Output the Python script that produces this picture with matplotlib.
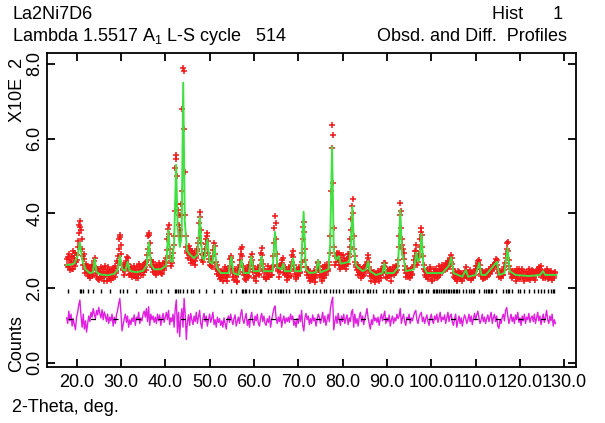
#!/usr/bin/env python3
"""
GSAS-style Rietveld plot: observed, calculated and difference profiles
"""

import numpy as np
import matplotlib
matplotlib.use("Agg")
import matplotlib.pyplot as plt

plt.rcParams['font.family'] = ['Liberation Sans', 'DejaVu Sans']
plt.rcParams['mathtext.fontset'] = 'custom'
plt.rcParams['mathtext.rm'] = 'Liberation Sans'

# observed profile, 0.125 deg steps from 17.75 to 128.0 (units of 10^2 counts)
# one row = 5 deg
obs_start, obs_step = 17.75, 0.125
y_obs = [
    2.78, 2.62, 2.55, 2.84, 2.92, 2.60, 2.48, 2.75, 2.70, 2.50, 2.85, 2.98, 2.52, 2.80, 2.66, 2.58, 2.95, 2.70, 2.74, 2.88,
    3.10, 3.25, 3.48, 3.68, 3.80, 3.62, 3.55, 3.30, 3.05, 2.85, 2.62, 2.90, 2.78, 2.52, 2.40, 2.64, 2.58, 2.45, 2.33, 2.55,
    2.50, 2.36, 2.28, 2.55, 2.45, 2.32, 2.62, 2.48, 2.35, 2.60, 2.72, 2.80, 2.55, 2.40, 2.30, 2.52, 2.48, 2.25, 2.22, 2.46,
    2.41, 2.30, 2.56, 2.38, 2.26, 2.50, 2.44, 2.18, 2.33, 2.58, 2.52, 2.34, 2.20, 2.42, 2.38, 2.55, 2.47, 2.24, 2.29, 2.45,
    2.36, 2.22, 2.50, 2.40, 2.27, 2.54, 2.44, 2.30, 2.58, 2.46, 2.40, 2.72, 2.66, 2.85, 3.05, 3.30, 3.42, 3.36, 3.15, 2.90,
    2.62, 2.50, 2.48, 2.62, 2.35, 2.45, 2.55, 2.72, 2.68, 2.82, 2.80, 2.64, 2.50, 2.36, 2.38, 2.52, 2.56, 2.34, 2.30, 2.48,
    2.45, 2.58, 2.31, 2.42, 2.52, 2.26, 2.40, 2.55, 2.28, 2.38, 2.47, 2.64, 2.58, 2.44, 2.36, 2.52, 2.49, 2.35, 2.62, 2.50,
    2.42, 2.66, 2.55, 2.48, 2.70, 2.88, 3.05, 3.38, 3.47, 3.42, 3.20, 2.95, 2.75, 2.62, 2.55, 2.70, 2.44, 2.52, 2.60, 2.40,
    2.48, 2.62, 2.36, 2.50, 2.57, 2.42, 2.44, 2.68, 2.62, 2.48, 2.40, 2.56, 2.52, 2.38, 2.66, 2.54, 2.47, 2.70, 2.58, 2.66,
    2.80, 3.02, 3.30, 3.58, 3.69, 3.45, 3.05, 2.85, 2.72, 2.58, 2.66, 2.80, 2.95, 3.15, 3.40, 4.05, 5.20, 5.45, 5.56, 5.00,
    4.25, 4.10, 3.95, 3.70, 3.55, 3.40, 3.95, 4.25, 4.60, 6.80, 7.88, 7.80, 6.25, 5.10, 3.95, 3.40, 3.10, 3.00, 2.95, 2.80,
    3.12, 2.95, 2.88, 3.05, 2.75, 2.68, 3.00, 2.85, 2.70, 2.95, 2.92, 2.72, 2.62, 2.80, 2.85, 2.98, 3.05, 3.20, 3.35, 3.75,
    4.04, 3.90, 3.55, 3.20, 2.90, 2.75, 2.70, 2.88, 2.85, 2.95, 3.05, 3.18, 3.30, 3.40, 3.47, 3.25, 2.95, 2.78, 2.62, 2.70,
    2.78, 2.60, 2.55, 2.68, 2.85, 3.02, 3.20, 3.12, 2.90, 2.70, 2.52, 2.62, 2.38, 2.46, 2.50, 2.32, 2.25, 2.40, 2.42, 2.28,
    2.30, 2.45, 2.18, 2.34, 2.44, 2.56, 2.28, 2.40, 2.52, 2.30, 2.20, 2.46, 2.36, 2.50, 2.60, 2.78, 2.85, 2.80, 2.70, 2.52,
    2.40, 2.30, 2.22, 2.50, 2.45, 2.35, 2.30, 2.20, 2.16, 2.38, 2.48, 2.55, 2.62, 2.75, 2.90, 3.05, 3.10, 2.85, 2.58, 2.42,
    2.35, 2.24, 2.50, 2.38, 2.22, 2.46, 2.40, 2.30, 2.55, 2.62, 2.32, 2.50, 2.70, 2.82, 2.90, 2.76, 2.60, 2.42, 2.28, 2.50,
    2.45, 2.32, 2.18, 2.40, 2.40, 2.52, 2.55, 2.38, 2.35, 2.58, 2.75, 2.95, 3.07, 2.88, 2.65, 2.45, 2.30, 2.52, 2.46, 2.26,
    2.25, 2.38, 2.42, 2.30, 2.58, 2.44, 2.30, 2.52, 2.48, 2.34, 2.36, 2.55, 2.60, 2.85, 3.20, 3.60, 3.92, 3.75, 3.30, 2.90,
    2.62, 2.50, 2.45, 2.60, 2.30, 2.42, 2.55, 2.62, 2.68, 2.76, 2.80, 2.62, 2.50, 2.40, 2.35, 2.52, 2.47, 2.32, 2.22, 2.44,
    2.40, 2.30, 2.55, 2.45, 2.32, 2.58, 2.70, 2.88, 3.00, 2.82, 2.62, 2.50, 2.38, 2.30, 2.25, 2.42, 2.48, 2.35, 2.33, 2.50,
    2.56, 2.40, 2.42, 2.55, 2.70, 2.95, 3.30, 3.62, 3.78, 3.50, 3.05, 2.75, 2.55, 2.42, 2.36, 2.48, 2.50, 2.34, 2.28, 2.40,
    2.20, 2.32, 2.38, 2.22, 2.26, 2.40, 2.45, 2.30, 2.15, 2.28, 2.36, 2.48, 2.55, 2.66, 2.70, 2.58, 2.48, 2.36, 2.30, 2.42,
    2.18, 2.30, 2.42, 2.55, 2.27, 2.38, 2.50, 2.62, 2.35, 2.48, 2.58, 2.52, 2.46, 2.62, 2.70, 2.95, 3.40, 4.60, 5.75, 6.37,
    6.10, 4.80, 3.60, 3.10, 2.85, 2.62, 2.70, 2.90, 2.95, 2.78, 2.80, 2.95, 2.62, 2.50, 2.75, 2.88, 2.55, 2.70, 2.88, 2.62,
    2.60, 2.80, 2.72, 2.58, 2.50, 2.66, 2.78, 2.90, 2.65, 2.82, 2.90, 3.10, 3.30, 3.55, 3.85, 4.20, 4.38, 4.00, 3.40, 3.05,
    2.85, 2.70, 2.62, 2.55, 2.48, 2.62, 2.35, 2.44, 2.55, 2.38, 2.40, 2.52, 2.28, 2.40, 2.50, 2.32, 2.36, 2.55, 2.60, 2.48,
    2.45, 2.62, 2.70, 2.80, 2.88, 2.70, 2.55, 2.40, 2.32, 2.45, 2.20, 2.34, 2.42, 2.30, 2.26, 2.44, 2.15, 2.28, 2.38, 2.25,
    2.30, 2.40, 2.45, 2.28, 2.18, 2.42, 2.36, 2.26, 2.50, 2.44, 2.40, 2.52, 2.58, 2.66, 2.68, 2.55, 2.42, 2.30, 2.28, 2.45,
    2.47, 2.36, 2.33, 2.50, 2.52, 2.34, 2.20, 2.38, 2.44, 2.56, 2.36, 2.48, 2.55, 2.40, 2.42, 2.58, 2.60, 2.48, 2.75, 3.10,
    3.40, 3.95, 4.28, 4.05, 3.60, 3.30, 3.15, 3.05, 2.95, 2.78, 2.60, 2.48, 2.40, 2.30, 2.52, 2.40, 2.30, 2.48, 2.45, 2.36,
    2.28, 2.42, 2.50, 2.35, 2.38, 2.55, 2.62, 2.75, 2.85, 3.00, 3.15, 2.98, 2.80, 2.62, 2.70, 2.82, 2.90, 3.10, 3.30, 3.50,
    3.60, 3.42, 3.10, 2.85, 2.62, 2.50, 2.45, 2.36, 2.30, 2.42, 2.48, 2.30, 2.25, 2.38, 2.40, 2.52, 2.55, 2.40, 2.32, 2.22,
    2.20, 2.35, 2.44, 2.50, 2.35, 2.26, 2.52, 2.40, 2.28, 2.46, 2.40, 2.30, 2.58, 2.45, 2.36, 2.50, 2.47, 2.55, 2.62, 2.48,
    2.45, 2.60, 2.55, 2.48, 2.66, 2.58, 2.50, 2.64, 2.72, 2.55, 2.60, 2.76, 2.80, 2.70, 2.88, 2.80, 2.65, 2.52, 2.40, 2.30,
    2.28, 2.44, 2.36, 2.25, 2.18, 2.35, 2.30, 2.45, 2.42, 2.30, 2.25, 2.40, 2.38, 2.28, 2.20, 2.32, 2.35, 2.28, 2.46, 2.38,
    2.55, 2.45, 2.40, 2.30, 2.26, 2.44, 2.35, 2.28, 2.48, 2.36, 2.22, 2.40, 2.38, 2.26, 2.30, 2.44, 2.45, 2.36, 2.52, 2.58,
    2.60, 2.50, 2.68, 2.72, 2.75, 2.62, 2.50, 2.38, 2.32, 2.45, 2.40, 2.28, 2.25, 2.42, 2.36, 2.26, 2.46, 2.34, 2.30, 2.44,
    2.42, 2.34, 2.50, 2.44, 2.38, 2.52, 2.56, 2.46, 2.48, 2.60, 2.62, 2.55, 2.58, 2.68, 2.70, 2.78, 2.75, 2.62, 2.52, 2.40,
    2.30, 2.46, 2.40, 2.32, 2.28, 2.42, 2.45, 2.34, 2.36, 2.48, 2.55, 2.66, 2.80, 2.92, 3.05, 3.20, 3.24, 3.00, 2.75, 2.58,
    2.50, 2.44, 2.38, 2.30, 2.26, 2.40, 2.45, 2.36, 2.32, 2.46, 2.20, 2.30, 2.40, 2.52, 2.35, 2.28, 2.52, 2.40, 2.24, 2.36,
    2.38, 2.50, 2.46, 2.32, 2.30, 2.42, 2.18, 2.26, 2.42, 2.34, 2.28, 2.44, 2.36, 2.25, 2.50, 2.40, 2.22, 2.34, 2.40, 2.48,
    2.30, 2.38, 2.46, 2.28, 2.34, 2.44, 2.22, 2.36, 2.40, 2.48, 2.52, 2.42, 2.36, 2.55, 2.45, 2.52, 2.60, 2.44, 2.38, 2.30,
    2.28, 2.40, 2.44, 2.26, 2.32, 2.46, 2.50, 2.36, 2.25, 2.42, 2.40, 2.28, 2.30, 2.44, 2.46, 2.34, 2.22, 2.36, 2.38, 2.26,
    2.32, 2.40, 2.44,
]

# calculated profile (green line), read as break points
calc_tth = [
    17.7, 18.5, 19.5, 20.2, 20.75, 21.3, 22.0, 23.0, 23.7, 24.1, 24.5, 25.5, 27.0, 28.5, 29.3, 29.8, 30.3,
    31.0, 31.5, 32.0, 33.5, 35.0, 35.8, 36.3, 36.8, 37.5, 39.0, 40.2, 40.7, 41.2, 41.6, 42.0, 42.45, 42.8,
    43.3, 43.7, 44.05, 44.4, 44.9, 45.5, 46.5, 47.3, 47.8, 48.3, 48.8, 49.5, 50.0, 50.6, 51.1, 51.6, 52.5,
    54.3, 54.9, 55.4, 56.5, 57.2, 57.7, 58.9, 59.4, 59.9, 61.2, 61.7, 62.2, 64.2, 64.75, 65.3, 66.2, 66.6,
    67.0, 68.3, 68.8, 69.3, 70.6, 71.2, 71.7, 72.5, 74.0, 74.5, 75.0, 76.8, 77.2, 77.62, 78.0, 78.5, 79.1,
    79.6, 81.5, 81.8, 82.2, 82.6, 83.0, 84.5, 85.3, 85.75, 86.2, 87.5, 89.0, 89.4, 89.8, 91.5, 92.5, 93.0,
    93.4, 93.8, 94.3, 96.1, 96.6, 97.0, 97.4, 97.8, 98.2, 99.0, 101.0, 102.5, 104.0, 104.5, 105.0, 107.0,
    107.8, 108.3, 110.0, 110.8, 111.3, 112.3, 114.8, 115.3, 116.5, 117.2, 117.7, 119.0, 122.0, 124.5, 125.2,
    125.7, 128.2,
]
calc_y = [
    2.62, 2.62, 2.66, 2.85, 3.22, 2.75, 2.50, 2.40, 2.42, 2.78, 2.42, 2.36, 2.34, 2.38, 2.50, 2.86, 2.50,
    2.46, 2.70, 2.46, 2.42, 2.46, 2.60, 3.22, 2.62, 2.50, 2.50, 2.60, 3.55, 2.72, 2.70, 3.20, 5.30, 3.60,
    3.10, 3.40, 7.50, 3.80, 3.00, 2.90, 2.80, 2.90, 3.90, 2.85, 2.75, 3.30, 2.70, 2.65, 3.15, 2.55, 2.40,
    2.40, 2.84, 2.40, 2.35, 2.75, 2.40, 2.40, 2.84, 2.45, 2.45, 2.85, 2.45, 2.45, 3.50, 2.55, 2.50, 2.65,
    2.45, 2.45, 2.80, 2.45, 2.45, 4.04, 2.50, 2.40, 2.42, 2.75, 2.42, 2.50, 3.20, 5.78, 3.00, 2.75, 2.85,
    2.65, 2.70, 3.00, 4.18, 3.00, 2.60, 2.45, 2.50, 2.72, 2.45, 2.35, 2.40, 2.67, 2.40, 2.40, 2.55, 4.09,
    2.90, 2.75, 2.45, 2.50, 2.95, 2.70, 2.80, 3.45, 2.60, 2.40, 2.40, 2.40, 2.60, 2.82, 2.40, 2.30,
    2.48, 2.30, 2.35, 2.67, 2.35, 2.35, 2.70, 2.35, 2.40, 3.07, 2.45, 2.35, 2.32, 2.35, 2.45,
    2.35, 2.35,
]

# difference curve (obs - calc, offset), 0.25 deg steps from 17.75
diff_start, diff_step = 17.75, 0.25
y_diff = [
    1.20, 1.05, 1.38, 1.12, 1.30, 0.98, 1.18, 1.02, 0.88, 1.22, 1.35, 1.55, 1.68, 1.25, 0.95, 1.30, 0.90, 1.12, 0.82, 1.05,
    1.25, 1.10, 1.35, 1.22, 1.45, 1.30, 1.18, 1.40, 1.28, 1.48, 1.32, 1.20, 1.42, 1.15, 1.36, 1.25, 1.10, 1.30, 1.05, 1.22,
    1.12, 1.30, 0.98, 1.22, 1.05, 1.28, 1.40, 1.58, 1.72, 1.35, 0.85, 1.02, 1.18, 1.30, 1.08, 1.25, 0.95, 1.15, 1.02, 1.20,
    1.10, 1.28, 1.00, 1.22, 1.15, 1.35, 1.05, 1.20, 1.12, 1.30, 1.38, 1.22, 1.45, 1.10, 1.50, 1.00, 1.30, 1.15, 1.25, 1.08,
    1.22, 1.05, 1.30, 1.12, 1.28, 1.00, 1.18, 1.32, 1.08, 1.22, 1.35, 1.15, 1.40, 1.02, 1.20, 1.10, 1.30, 0.95, 1.45, 1.68,
    0.80, 1.35, 0.70, 1.20, 1.45, 0.95, 1.72, 1.30, 0.62, 1.10, 1.28, 1.00, 1.32, 1.15, 1.02, 1.25, 1.10, 1.35, 1.05, 1.22,
    1.40, 1.05, 0.92, 1.20, 1.32, 1.10, 1.25, 0.98, 1.15, 1.30, 1.08, 1.20, 1.35, 1.02, 1.15, 0.95, 1.22, 1.08, 1.18, 1.00,
    1.12, 0.95, 1.20, 1.05, 0.90, 1.15, 1.25, 1.08, 1.30, 1.15, 1.02, 1.18, 1.28, 0.98, 1.10, 1.22, 1.05, 1.30, 1.42, 1.15,
    1.05, 1.20, 1.32, 1.00, 1.15, 0.95, 1.22, 1.35, 1.10, 1.00, 1.25, 1.12, 1.30, 1.05, 0.98, 1.20, 1.32, 1.10, 1.25, 1.05,
    1.00, 1.18, 1.08, 1.25, 0.95, 1.15, 1.30, 1.45, 1.52, 1.20, 1.05, 1.22, 1.10, 1.30, 0.95, 1.15, 1.25, 1.05, 1.20, 1.10,
    1.22, 1.08, 1.30, 1.15, 1.25, 1.00, 1.12, 0.95, 1.18, 1.05, 1.28, 1.10, 1.40, 1.00, 0.85, 1.20, 1.32, 1.15, 1.25, 1.02,
    1.18, 1.05, 1.28, 1.12, 1.20, 0.98, 1.15, 1.30, 1.22, 1.05, 1.18, 1.35, 1.08, 1.25, 1.00, 1.15, 1.30, 1.10, 1.45, 1.62,
    1.75, 0.88, 1.10, 1.25, 1.05, 1.32, 1.15, 1.00, 1.25, 1.10, 1.30, 1.05, 1.18, 1.28, 1.02, 1.20, 1.10, 1.35, 1.42, 0.95,
    1.30, 1.05, 1.18, 0.98, 1.22, 1.35, 1.10, 1.25, 1.02, 1.18, 1.30, 1.45, 1.20, 1.05, 0.90, 1.15, 1.02, 1.28, 1.12, 1.20,
    1.08, 1.22, 1.00, 1.18, 1.30, 1.12, 1.25, 1.38, 1.05, 1.20, 1.10, 1.28, 0.98, 1.15, 1.25, 1.05, 1.20, 1.12, 1.30, 1.18,
    1.25, 1.45, 1.05, 1.20, 1.30, 1.10, 1.00, 1.22, 1.15, 1.30, 1.05, 1.20, 1.12, 1.25, 1.35, 1.40, 1.15, 1.05, 1.22, 1.30,
    1.35, 1.10, 1.22, 1.05, 1.18, 1.28, 1.10, 1.00, 1.20, 1.30, 1.12, 1.05, 1.25, 1.15, 1.30, 1.08, 1.20, 1.35, 1.10, 1.22,
    1.15, 1.28, 1.05, 1.20, 1.35, 1.10, 1.25, 1.30, 1.08, 1.00, 1.18, 1.30, 0.95, 1.12, 1.25, 1.05, 1.20, 0.98, 1.15, 1.28,
    1.20, 1.05, 1.15, 1.30, 1.10, 1.25, 1.02, 1.18, 1.32, 1.15, 1.28, 1.38, 1.20, 1.05, 1.15, 1.30, 1.10, 1.22, 1.05, 1.18,
    1.28, 1.10, 1.22, 1.35, 1.05, 1.20, 1.30, 1.10, 1.25, 0.98, 0.92, 1.15, 1.05, 1.22, 1.30, 1.12, 1.40, 1.48, 1.25, 1.05,
    1.18, 1.30, 1.10, 1.22, 1.05, 1.28, 1.15, 1.35, 1.08, 1.20, 1.00, 1.25, 1.12, 1.30, 1.05, 1.22, 1.15, 1.32, 1.08, 1.20,
    1.25, 1.10, 1.30, 1.05, 1.20, 1.35, 1.12, 1.25, 1.02, 1.18, 1.30, 1.08, 1.22, 1.40, 1.15, 1.05, 1.25, 1.12, 1.30, 0.98,
    1.15, 1.05,
]
diff_zero = 1.16

# reflection positions (black tick marks)
refl_tth = [
    18.1, 20.7, 21.1, 21.5, 22.6, 23.7, 25.6, 27.5, 29.8, 30.4, 31.4, 33.5, 35.8, 36.5, 36.9, 38.0,
    39.1, 40.6, 42.1, 42.5, 42.9, 43.3, 44.0, 44.8, 45.9, 46.3, 47.6, 49.3, 51.1, 52.7, 54.9, 56.0,
    57.2, 57.5, 57.9, 58.3, 59.0, 59.8, 60.5, 61.3, 61.7, 63.2, 63.9, 64.7, 65.4, 65.8, 66.2, 66.5,
    67.3, 68.0, 69.2, 69.9, 70.7, 71.4, 72.2, 72.5, 73.3, 74.1, 74.8, 75.9, 76.3, 77.1, 77.8, 78.6,
    79.1, 80.0, 81.2, 81.6, 81.9, 82.3, 83.1, 83.8, 84.6, 85.5, 85.7, 86.1, 86.8, 87.6, 89.1, 89.7,
    90.6, 91.3, 92.4, 92.8, 93.2, 93.6, 93.9, 94.7, 95.8, 96.9, 97.3, 97.7, 98.0, 98.8, 99.2, 100.3,
    100.7, 101.1, 101.4, 101.8, 102.2, 102.6, 102.9, 103.3, 103.7, 104.1, 104.5, 104.8, 105.2, 105.6,
    105.9, 106.3, 107.1, 107.8, 108.6, 109.0, 109.3, 109.7, 110.8, 112.0, 112.3, 112.7, 113.1, 113.5,
    113.8, 114.6, 116.1, 116.8, 117.2, 117.6, 118.3, 119.5, 119.9, 121.0, 122.1, 123.2, 124.0, 124.8,
    125.5, 126.3, 127.0, 127.4, 127.7,
]

x_ticks = [20, 30, 40, 50, 60, 70, 80, 90, 100, 110, 120, 130]
y_ticks = [0, 2, 4, 6, 8]


def plot_profiles(output_file):
    fig = plt.figure(figsize=(6.05, 4.23), dpi=100)
    ax = fig.add_axes([0.0782, 0.1317, 0.8736, 0.7437])

    tth_obs = obs_start + obs_step * np.arange(len(y_obs))
    tth_diff = diff_start + diff_step * np.arange(len(y_diff))

    # observed as red crosses, calculated as green line on top
    ax.plot(tth_obs, y_obs, linestyle='none', marker='+', color='#f01818',
            markersize=5, markeredgewidth=1.1, zorder=2)
    ax.plot(calc_tth, calc_y, color='#3fe03f', linewidth=1.4, zorder=3)

    # reflection markers
    ax.vlines(refl_tth, 1.87, 1.97, colors='black', linewidth=1.0, zorder=3)

    # difference curve with dashed zero line
    ax.plot(tth_diff, y_diff, color='#e020e0', linewidth=1.0, zorder=3)
    ax.axhline(diff_zero, xmin=0.04, xmax=0.96, color='black', linewidth=0.9,
               dashes=(4, 14), zorder=4)

    ax.set_xlim(13.4, 132.6)
    ax.set_ylim(-0.123, 8.30)
    ax.set_xticks(x_ticks)
    ax.set_xticklabels([f"{t:.1f}" for t in x_ticks], fontsize=13)
    ax.set_yticks(y_ticks)
    ax.set_yticklabels([f"{t:.1f}" for t in y_ticks], fontsize=13,
                       rotation=90, va='center')
    ax.tick_params(direction='in', length=6, width=1.3, top=True, right=True)
    ax.tick_params(axis='x', pad=5)
    ax.tick_params(axis='y', pad=3)
    for sp in ax.spines.values():
        sp.set_linewidth(1.3)

    # header and axis texts, GSAS style
    fig.text(12 / 605, 1 - 19 / 423, "La2Ni7D6", fontsize=13, va='baseline')
    fig.text(12 / 605, 1 - 41 / 423,
             r"Lambda 1.5517 A$_{\rm 1}$ L-S cycle   514", fontsize=13, va='baseline')
    fig.text(563 / 605, 1 - 19 / 423, "Hist      1", fontsize=13, va='baseline', ha='right')
    fig.text(567 / 605, 1 - 41 / 423, "Obsd. and Diff.  Profiles", fontsize=13,
             va='baseline', ha='right')
    fig.text(12 / 605, 1 - 412 / 423, "2-Theta, deg.", fontsize=13, va='baseline')
    fig.text(17 / 605, 1 - 58 / 423, "X10E  2", fontsize=13, rotation=90,
             ha='center', va='top')
    fig.text(17 / 605, 1 - 372 / 423, "Counts", fontsize=13, rotation=90,
             ha='center', va='bottom')

    fig.savefig(output_file, dpi=100)


if __name__ == "__main__":
    plot_profiles("out.png")
